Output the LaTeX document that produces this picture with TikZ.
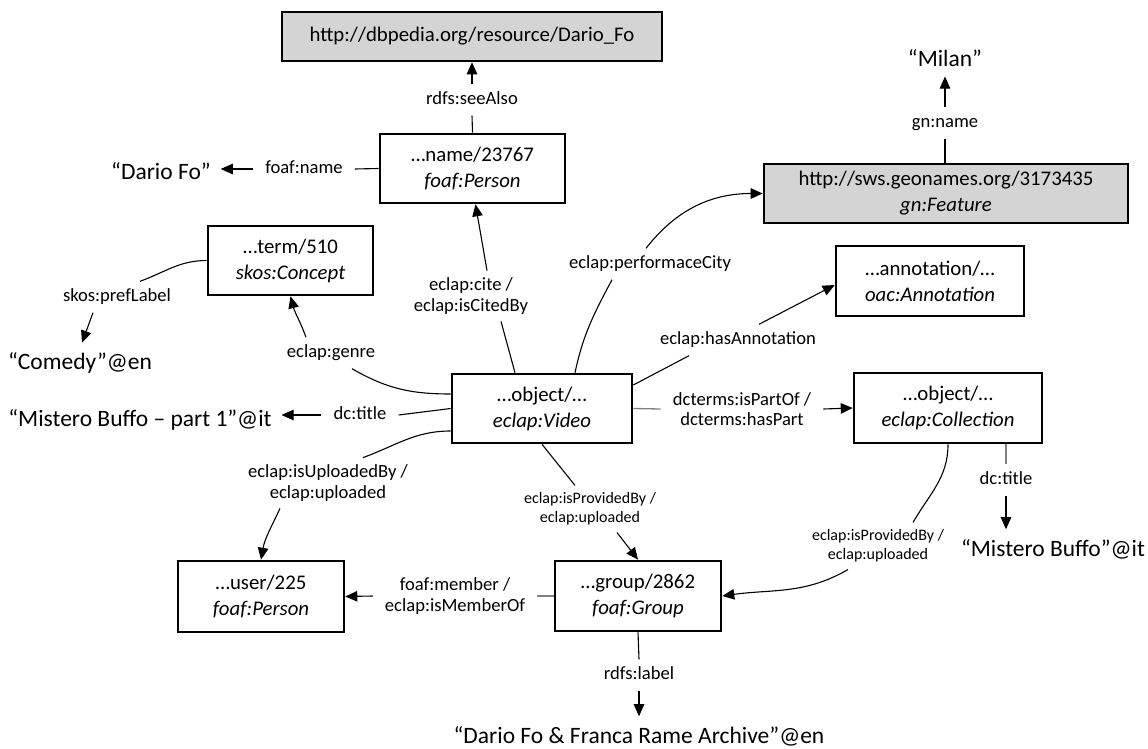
\documentclass[tikz,border=0pt]{standalone}
\usepackage{fontspec}
\setmainfont{Carlito}
\usetikzlibrary{arrows.meta}
\definecolor{boxgray}{RGB}{212,212,212}
\newcommand\boxfnt{\fontsize{20.8}{26}\selectfont}
\newcommand\labfnt{\fontsize{18.6}{20.5}\selectfont}
\newcommand\narfnt{\fontsize{16}{19}\selectfont}
\newcommand\litfnt{\fontsize{23.5}{27}\selectfont}
\begin{document}
\begin{tikzpicture}[x=1pt,y=-1pt,
  box/.style={draw, line width=2.6pt, fill=white, align=center, font=\boxfnt, inner sep=2pt},
  gbox/.style={box, fill=boxgray},
  lab/.style={font=\labfnt, align=center, inner xsep=12pt, inner ysep=7pt},
  lab1/.style={lab, text height=13pt, text depth=4pt},
  nar/.style={lab, font=\narfnt},
  lit/.style={font=\litfnt, inner sep=0pt, outer sep=10pt},
  ln/.style={line width=1.1pt},
  gln/.style={line width=1.3pt, black!50},
  arr/.style={line width=1.1pt, -{Triangle[length=12pt,width=10.5pt]}}]
\useasboundingbox (0,0) rectangle (1148,749);

% resource boxes
\node[gbox, minimum width=380pt, minimum height=49pt] (dbp) at (472,36.5) {http://dbpedia.org/resource/Dario\_Fo};
\node[box, minimum width=185pt, minimum height=69pt] (name) at (472.5,168.5) {…name/23767\\\textit{foaf:Person}};
\node[box, minimum width=165pt, minimum height=69pt] (term) at (290.5,260.5) {…term/510\\\textit{skos:Concept}};
\node[gbox, minimum width=364pt, minimum height=59pt] (geo) at (946,193.5) {http://sws.geonames.org/3173435\\\textit{gn:Feature}};
\node[box, minimum width=188pt, minimum height=70pt] (ann) at (930,281) {…annotation/…\\\textit{oac:Annotation}};
\node[box, minimum width=180pt, minimum height=69pt] (video) at (542,408.5) {…object/…\\\textit{eclap:Video}};
\node[box, minimum width=188pt, minimum height=70pt] (coll) at (948,408) {…object/…\\\textit{eclap:Collection}};
\node[box, minimum width=166pt, minimum height=71pt] (user) at (261,596.5) {…user/225\\\textit{foaf:Person}};
\node[box, minimum width=166pt, minimum height=70pt] (group) at (638,596) {…group/2862\\\textit{foaf:Group}};

% property labels
\node[lab1] (lSee) at (472,100) {rdfs:seeAlso};
\node[lab1] (lName) at (304,169) {foaf:name};
\node[lab1] (lGn) at (945,123) {gn:name};
\node[lab1] (lPref) at (117,297) {skos:prefLabel};
\node[lab] (lCite) at (471,296) {eclap:cite /\\eclap:isCitedBy};
\node[lab1] (lPerf) at (650,264) {eclap:performaceCity};
\node[lab1] (lAnn) at (738,340) {eclap:hasAnnotation};
\node[lab1] (lGenre) at (331,353) {eclap:genre};
\node[lab1] (lTitle) at (360,415) {dc:title};
\node[lab] (lDct) at (742,409) {dcterms:isPartOf /\\dcterms:hasPart};
\node[lab] (lUp) at (328,483) {eclap:isUploadedBy /\\eclap:uploaded};
\node[nar] (lProv) at (590,509) {eclap:isProvidedBy /\\eclap:uploaded};
\node[nar] (lProv2) at (878,546) {eclap:isProvidedBy /\\eclap:uploaded};
\node[lab1] (lTitle2) at (1006,480) {dc:title};
\node[lab] (lMem) at (455,596) {foaf:member /\\eclap:isMemberOf};
\node[lab1] (lLab) at (639,675) {rdfs:label};

% literals
\node[lit] (dario) at (161,171) {“Dario Fo”};
\node[lit] (milan) at (945,58) {“Milan”};
\node[lit] (comedy) at (80,363) {“Comedy”@en};
\node[lit] (mis1) at (140,420) {“Mistero Buffo – part 1”@it};
\node[lit] (mis2) at (1053,549) {“Mistero Buffo”@it};
\node[lit] (arch) at (639,736) {“Dario Fo \& Franca Rame Archive”@en};

% connectors
\draw[ln] (name.north) -- (lSee.south);
\draw[arr] (lSee.north) -- (dbp.south);

\draw[ln] (name.west) -- (lName.east);
\draw[arr] (lName.west) -- (lName.west -| dario.east);

\draw[ln] (geo.north -| lGn) -- (lGn.south);
\draw[arr] (lGn.north) -- (milan.south);

\draw[ln] (term.west) to[out=180,in=20] ([xshift=23pt]lPref.north);
\draw[arr] ([xshift=-24pt]lPref.south) -- ([xshift=2pt]comedy.north);

\draw[ln] ([xshift=-27pt]video.north) -- ([xshift=30pt]lCite.south);
\draw[arr] ([xshift=16pt]lCite.north) -- ([xshift=3pt]name.south);

\draw[ln] ([xshift=33pt]video.north) to[out=78,in=-118] ([xshift=-38pt]lPerf.south);
\draw[arr] ([xshift=-4pt]lPerf.north) to[out=52,in=180] (geo.west);

\draw[ln] ([yshift=23.5pt]video.east) -- ([xshift=-49pt]lAnn.south);
\draw[arr] ([xshift=21pt]lAnn.north) -- ([yshift=-4pt]ann.west);

\draw[gln] (video.east) -- (lDct.west);
\draw[arr] (lDct.east) -- (coll.west);

\draw[ln] ([yshift=14.5pt]video.west) to[out=180,in=-30] ([xshift=21pt]lGenre.south);
\draw[arr] ([xshift=-25pt]lGenre.north) to[out=110,in=-75] (term.south);

\draw[ln] (video.west) -- (lTitle.east);
\draw[arr] (lTitle.west) -- (lTitle.west -| mis1.east);

\draw[ln] ([yshift=-22.5pt]video.west) to[out=180,in=20] ([xshift=35pt]lUp.north);
\draw[arr] ([xshift=-48pt]lUp.south) to[out=-115,in=80] (user.north);

\draw[ln] (video.south) -- ([xshift=-15pt]lProv.north);
\draw[arr] ([xshift=27pt]lProv.south) -- (group.north);

\draw[ln] (coll.south) to[out=-90,in=60] ([xshift=35pt]lProv2.north);
\draw[arr] ([xshift=-30pt]lProv2.south) to[out=-150,in=8] (group.east);

\draw[gln] (coll.south -| lTitle2) -- (lTitle2.north);
\draw[arr] (lTitle2.south) -- (lTitle2.south |- mis2.north);

\draw[gln] (group.west) -- (lMem.east);
\draw[arr] (lMem.west) -- (user.east);

\draw[ln] (group.south) -- (lLab.north);
\draw[arr] (lLab.south) -- (arch.north);
\end{tikzpicture}
\end{document}
